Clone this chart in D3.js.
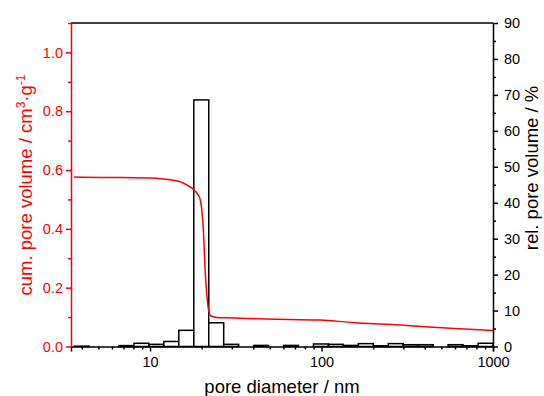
<!DOCTYPE html>
<html><head><meta charset="utf-8">
<script src="https://cdn.jsdelivr.net/npm/d3@7"></script>
<style>
html,body{margin:0;padding:0;background:#fff;}
svg{display:block;font-family:"Liberation Sans",Arial,sans-serif;}
</style></head>
<body>
<svg id="chart" width="544" height="396"></svg>
<script>
// ---- data ----
// histogram bin edges (nm), log-spaced
const binEdges = [3.61, 4.41, 5.39, 6.59, 8.06, 9.85, 12.04, 14.72, 18.0, 22.0, 26.89, 32.87, 40.19, 49.13, 60.06, 73.42, 89.75, 109.7, 134.1, 164.0, 200.5, 245.1, 299.6, 366.2, 447.7, 547.3, 669.1, 818.0, 1000];
// relative pore volume per bin (%)
const relVolume = [0.1, 0, 0, 0.25, 0.9, 0.6, 1.4, 4.5, 68.6, 6.6, 0.6, 0, 0.3, 0, 0.3, 0, 0.7, 0.6, 0.3, 0.8, 0.2, 0.8, 0.5, 0.5, 0, 0.5, 0.2, 0.9];
// cumulative pore volume curve
const cumDiameter = [3.6, 5.1, 6.7, 10, 13.1, 15.6, 17.1, 17.9, 19.1, 19.6, 20.0, 20.5, 20.9, 21.4, 21.9, 22.4, 23.0, 24.5, 30.6, 48, 98, 147, 288, 563, 1000];
const cumVolume   = [0.576, 0.575, 0.575, 0.573, 0.567, 0.556, 0.543, 0.534, 0.515, 0.500, 0.468, 0.390, 0.271, 0.181, 0.127, 0.107, 0.102, 0.099, 0.097, 0.0935, 0.090, 0.082, 0.073, 0.062, 0.054];
const xTicks = [10, 100, 1000];
const xMinor = [4,5,6,7,8,9,20,30,40,50,60,70,80,90,200,300,400,500,600,700,800,900];
const yLeftTicks = [0, 0.2, 0.4, 0.6, 0.8, 1.0];
const yLeftMinor = [0.1, 0.3, 0.5, 0.7, 0.9, 1.1];
const yRightTicks = [0, 10, 20, 30, 40, 50, 60, 70, 80, 90];
const yRightMinor = [5, 15, 25, 35, 45, 55, 65, 75, 85];

// ---- layout ----
const L = 71, R = 493, T = 23, B = 346.5;
const RED = "#ff0000";
const svg = d3.select("#chart");

const x = d3.scaleLog().domain([3.46, 1000]).range([L, R]);
const yL = d3.scaleLinear().domain([0, 1.1]).range([B, T]);
const yR = d3.scaleLinear().domain([0, 90]).range([B, T]);

// bars
const bins = relVolume.map((v, i) => ({x0: binEdges[i], x1: binEdges[i+1], v}));
svg.append("g").selectAll("rect").data(bins).join("rect")
  .attr("x", d => x(d.x0))
  .attr("width", d => x(d.x1) - x(d.x0))
  .attr("y", d => yR(d.v))
  .attr("height", d => yR(0) - yR(d.v))
  .attr("fill", "#fff")
  .attr("stroke", "#000")
  .attr("stroke-width", 1.5);

// cumulative curve
const line = d3.line().x(d => x(d[0])).y(d => yL(d[1])).curve(d3.curveMonotoneX);
svg.append("path")
  .datum(cumDiameter.map((d, i) => [d, cumVolume[i]]))
  .attr("d", line)
  .attr("fill", "none")
  .attr("stroke", RED)
  .attr("stroke-width", 1.5);

// top frame
svg.append("line").attr("x1", L).attr("x2", R).attr("y1", T).attr("y2", T)
  .attr("stroke", "#000").attr("stroke-width", 1.5);

function styleAxis(g, color) {
  g.select(".domain").attr("stroke", color).attr("stroke-width", 1.5);
  g.selectAll(".tick line").attr("stroke", color).attr("stroke-width", 1.5);
  g.selectAll(".tick text").attr("fill", color).style("font-size", "14.5px")
    .style("font-family", '"Liberation Sans",Arial,sans-serif');
}

// bottom axis
const gx = svg.append("g").attr("transform", `translate(0,${B})`)
  .call(d3.axisBottom(x).tickValues(xTicks).tickFormat(d3.format("d")).tickSizeOuter(0).tickSize(5).tickPadding(5));
styleAxis(gx, "#000");
svg.append("g").attr("transform", `translate(0,${B})`)
  .call(d3.axisBottom(x).tickValues(xMinor).tickFormat("").tickSize(3).tickSizeOuter(0))
  .call(g => { g.select(".domain").remove(); g.selectAll("line").attr("stroke", "#000").attr("stroke-width", 1.5); });

// left axis
const gl = svg.append("g").attr("transform", `translate(${L},0)`)
  .call(d3.axisLeft(yL).tickValues(yLeftTicks).tickFormat(d3.format(".1f")).tickSize(5).tickSizeOuter(0).tickPadding(3));
styleAxis(gl, RED);
svg.append("g").attr("transform", `translate(${L},0)`)
  .call(d3.axisLeft(yL).tickValues(yLeftMinor).tickFormat("").tickSize(3).tickSizeOuter(0))
  .call(g => { g.select(".domain").remove(); g.selectAll("line").attr("stroke", RED).attr("stroke-width", 1.5); });

// right axis
const gr = svg.append("g").attr("transform", `translate(${R},0)`)
  .call(d3.axisRight(yR).tickValues(yRightTicks).tickFormat(d3.format("d")).tickSize(5).tickSizeOuter(0).tickPadding(6));
styleAxis(gr, "#000");
svg.append("g").attr("transform", `translate(${R},0)`)
  .call(d3.axisRight(yR).tickValues(yRightMinor).tickFormat("").tickSize(3).tickSizeOuter(0))
  .call(g => { g.select(".domain").remove(); g.selectAll("line").attr("stroke", "#000").attr("stroke-width", 1.5); });

// axis titles
svg.append("text").attr("x", (L + R) / 2).attr("y", 393)
  .attr("text-anchor", "middle").style("font-size", "18.5px").attr("fill", "#000")
  .text("pore diameter / nm");

const lt = svg.append("text").attr("transform", "translate(31.5,185) rotate(-90)")
  .attr("text-anchor", "middle").style("font-size", "18.5px").attr("fill", RED);
lt.append("tspan").text("cum. pore volume / cm");
lt.append("tspan").attr("dy", -7).style("font-size", "12px").text("3");
lt.append("tspan").attr("dy", 7).text("·g");
lt.append("tspan").attr("dy", -7).style("font-size", "12px").text("-1");

svg.append("text").attr("transform", "translate(538,168) rotate(-90)")
  .attr("text-anchor", "middle").style("font-size", "18.5px").attr("fill", "#000")
  .text("rel. pore volume / %");
</script>
</body></html>
